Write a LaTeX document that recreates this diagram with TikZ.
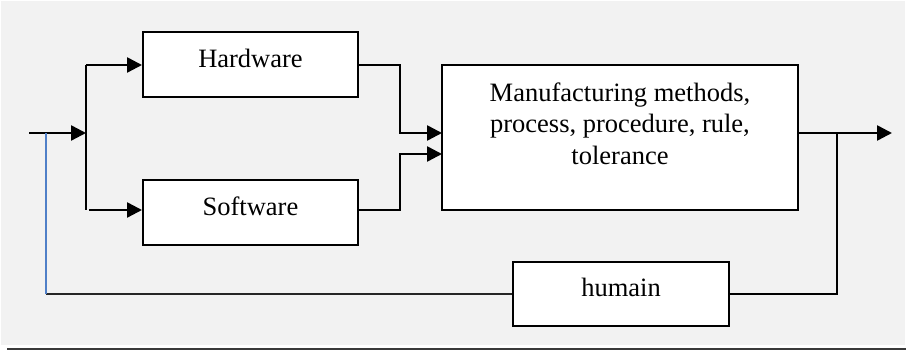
\documentclass[tikz,border=0pt]{standalone}
\usepackage{fontspec}
\setmainfont{Liberation Serif}
\usetikzlibrary{arrows.meta}
\definecolor{panel}{HTML}{F2F2F2}
\definecolor{rule}{HTML}{3A3A3A}
\definecolor{feedblue}{RGB}{80,128,200}
\begin{document}
\begin{tikzpicture}[x=0.5pt,y=-0.5pt,
  font=\fontsize{13.25}{15.75}\selectfont,
  blockbox/.style={draw=black,line width=1pt,fill=white,inner sep=0pt,
    text height=9pt,text depth=6pt},
  flow/.style={line width=1.25pt,black},
  flowarrow/.style={flow,-{Triangle[length=7.5pt,width=7.5pt]}},
  thinflow/.style={line width=0.8pt,black!85}]
  \useasboundingbox (0,0) rectangle (906,351);
  % panel and bottom rule
  \fill[panel] (1,1) rectangle (905,345);
  \draw[rule,line width=1pt] (7,349.5) -- (906,349.5);

  % blocks
  \node[blockbox,minimum width=107.5pt,minimum height=32.5pt] (hw) at (250.5,64.5) {Hardware};
  \node[blockbox,minimum width=107.5pt,minimum height=32.5pt] (sw) at (250.5,212.5) {Software};
  \node[blockbox,minimum width=178pt,minimum height=72.5pt] (mfg) at (620,137.5) {};
  \node[align=center,anchor=north,inner sep=0pt] (mfgtext) at (620,82)
    {Manufacturing methods,\\process, procedure, rule,\\tolerance};
  \node[blockbox,minimum width=108pt,minimum height=32pt] (hu) at (621,294) {humain};

  % junction points
  \coordinate (in) at (29,133);
  \coordinate (split) at (86,133);
  \coordinate (splittop) at (86,65);
  \coordinate (splitbot) at (86,210);
  \coordinate (swstart) at (89,210);
  \coordinate (merge) at (400,0);
  \coordinate (mfgin1) at (442,133);
  \coordinate (mfgin2) at (442,154);
  \coordinate (tap) at (837,133);
  \coordinate (out) at (892,133);
  \coordinate (fbcorner) at (46,294);
  \coordinate (fbtop) at (46,133);

  % input split
  \draw[flowarrow] (in) -- (split);
  \draw[flow] (splittop) -- (splitbot);
  \draw[flowarrow] (splittop) -- (splittop -| hw.west);
  \draw[flowarrow] (swstart) -- (swstart -| sw.west);

  % into the manufacturing block
  \draw[flowarrow] (hw.east |- splittop) -| (merge |- mfgin1) -- (mfgin1);
  \draw[flowarrow] (sw.east |- splitbot) -| (merge |- mfgin2) -- (mfgin2);

  % output and feedback loop
  \draw[flowarrow] (mfg.east |- out) -- (out);
  \draw[flow,line width=1pt] (tap) |- (hu.east);
  \draw[thinflow] (hu.west) -- (fbcorner);
  \draw[feedblue,line width=0.8pt] (fbcorner) -- (fbtop);
\end{tikzpicture}
\end{document}
